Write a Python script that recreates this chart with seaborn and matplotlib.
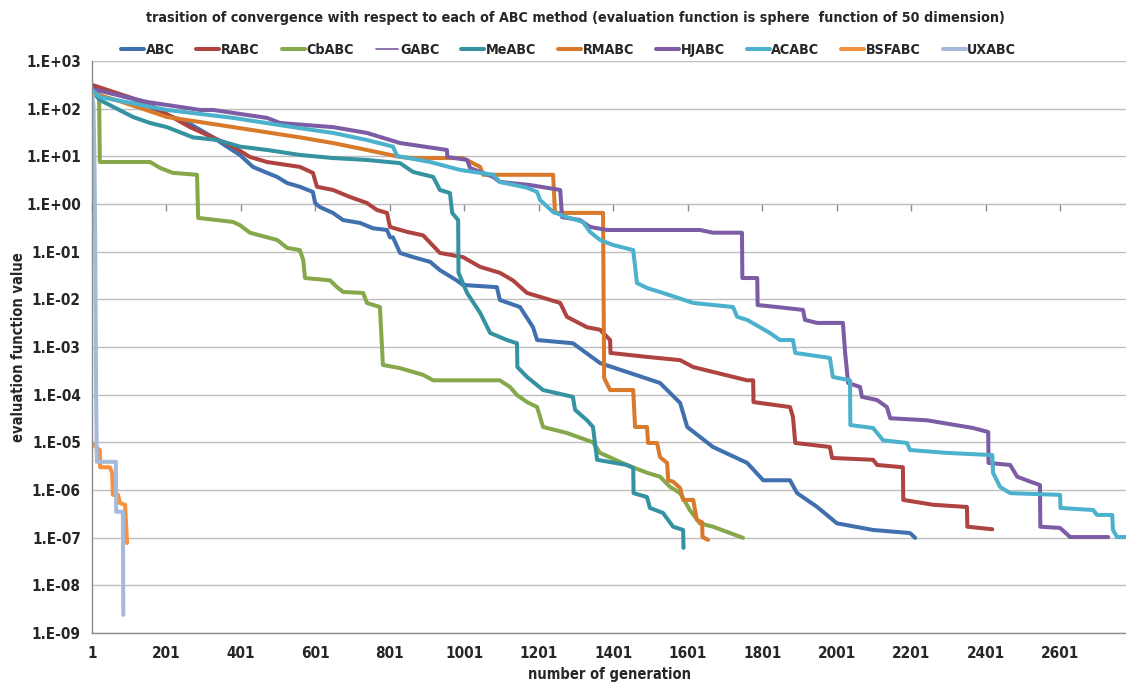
import matplotlib
matplotlib.use("Agg")
import matplotlib.pyplot as plt
from matplotlib import font_manager
from matplotlib.ticker import NullLocator
import seaborn as sns

# ---------------------------------------------------------------------------
# Best evaluation value (sphere function, 50 dimensions) per generation
# ---------------------------------------------------------------------------
ABC_gen = [1, 111, 202, 256, 326, 363, 398, 433, 471, 498, 525, 559, 594, 600, 613, 648,
           675, 721, 755, 793, 801, 809, 828, 863, 909, 935, 980, 997, 1088, 1096, 1150,
           1185, 1196, 1292, 1365, 1526, 1580, 1599, 1668, 1760, 1803, 1875, 1894, 1948,
           2001, 2098, 2197, 2211]
ABC_val = [271, 160, 74, 52, 25, 16, 10.7, 6.0, 4.5, 3.7, 2.75, 2.3, 1.79, 1.05, 0.86, 0.65,
           0.46, 0.40, 0.31, 0.285, 0.20, 0.20, 0.094, 0.077, 0.061, 0.041, 0.025, 0.020,
           0.018, 0.0097, 0.0069, 0.0026, 0.0014, 0.0012, 4.6e-4, 1.76e-4, 6.7e-5, 2.1e-5,
           8e-6, 3.7e-6, 1.6e-6, 1.6e-6, 8.6e-7, 4.4e-7, 2.0e-7, 1.45e-7, 1.25e-7, 9.9e-8]

RABC_gen = [1, 149, 264, 380, 425, 471, 559, 594, 605, 648, 694, 739, 766, 793, 801, 847,
            890, 935, 997, 1043, 1096, 1131, 1169, 1258, 1276, 1330, 1365, 1392, 1393, 1491,
            1580, 1615, 1668, 1760, 1776, 1777, 1875, 1883, 1889, 1982, 1988, 2098, 2109,
            2178, 2179, 2259, 2350, 2351, 2418]
RABC_val = [316, 131, 41, 16, 9.7, 7.6, 6.0, 4.5, 2.3, 1.97, 1.40, 1.05, 0.75, 0.65, 0.33,
            0.26, 0.22, 0.094, 0.077, 0.048, 0.036, 0.025, 0.0136, 0.0084, 0.0043, 0.0026,
            0.0023, 0.0014, 7.5e-4, 6.2e-4, 5.3e-4, 3.8e-4, 3.0e-4, 2.0e-4, 2.0e-4, 7e-5,
            5.5e-5, 3.4e-5, 9.7e-6, 8e-6, 4.7e-6, 4.3e-6, 3.35e-6, 3.0e-6, 6.2e-7, 4.9e-7,
            4.4e-7, 1.7e-7, 1.5e-7]

CbABC_gen = [1, 20, 22, 157, 184, 218, 283, 286, 337, 380, 398, 425, 471, 498, 525, 559,
             568, 573, 640, 659, 675, 729, 739, 774, 782, 828, 890, 917, 1096, 1123, 1142,
             1169, 1196, 1212, 1276, 1346, 1365, 1437, 1491, 1526, 1553, 1580, 1606, 1633,
             1668, 1749]
CbABC_val = [213, 200, 7.6, 7.6, 5.7, 4.5, 4.1, 0.51, 0.46, 0.42, 0.36, 0.25, 0.20, 0.176,
             0.12, 0.108, 0.067, 0.028, 0.025, 0.018, 0.0143, 0.0136, 0.0084, 0.0069,
             4.2e-4, 3.6e-4, 2.6e-4, 2.0e-4, 2.0e-4, 1.45e-4, 9.8e-5, 7e-5, 5.5e-5, 2.1e-5,
             1.57e-5, 1.0e-5, 6.0e-6, 3.35e-6, 2.3e-6, 1.9e-6, 1.16e-6, 8.6e-7, 3.8e-7,
             2.0e-7, 1.7e-7, 9.9e-8]

MeABC_gen = [1, 22, 111, 157, 202, 272, 337, 398, 471, 559, 648, 739, 828, 863, 917, 935,
             962, 968, 984, 985, 1008, 1043, 1070, 1115, 1142, 1143, 1169, 1212, 1292, 1298,
             1330, 1346, 1357, 1437, 1454, 1455, 1491, 1499, 1534, 1561, 1588, 1589]
MeABC_val = [235, 152, 67, 50, 41, 25, 22, 16, 13.6, 10.7, 9.2, 8.4, 7.2, 4.7, 3.7, 1.97,
             1.70, 0.65, 0.46, 0.036, 0.0136, 0.0052, 0.00197, 0.0014, 0.0012, 3.8e-4,
             2.35e-4, 1.25e-4, 9e-5, 4.8e-5, 2.9e-5, 2.1e-5, 4.3e-6, 3.35e-6, 2.9e-6, 8.6e-7,
             7.1e-7, 4.2e-7, 3.3e-7, 1.7e-7, 1.45e-7, 6.1e-8]

RMABC_gen = [1, 80, 202, 380, 559, 648, 739, 828, 863, 997, 1043, 1051, 1239, 1244, 1373,
             1376, 1392, 1454, 1459, 1491, 1494, 1518, 1526, 1545, 1548, 1561, 1580, 1588,
             1615, 1625, 1639, 1640, 1655]
RMABC_val = [213, 140, 67, 41, 25, 19, 13.6, 9.7, 9.2, 9.2, 6.0, 4.1, 4.1, 0.65, 0.65,
             2.24e-4, 1.25e-4, 1.25e-4, 2.1e-5, 2.1e-5, 9.7e-6, 9.7e-6, 4.9e-6, 3.7e-6,
             1.6e-6, 1.5e-6, 1.1e-6, 6.2e-7, 6.2e-7, 2.35e-7, 2.1e-7, 1.03e-7, 9e-8]

HJABC_gen = [1, 149, 291, 326, 471, 506, 648, 739, 828, 954, 955, 1008, 1016, 1078, 1096,
             1177, 1258, 1263, 1311, 1338, 1384, 1633, 1668, 1746, 1747, 1787, 1788, 1840,
             1910, 1915, 1948, 2017, 2023, 2031, 2063, 2068, 2109, 2135, 2144, 2243, 2366,
             2407, 2408, 2466, 2485, 2520, 2546, 2547, 2600, 2627, 2729]
HJABC_val = [259, 138, 94, 94, 64, 50, 41, 31, 19, 13.6, 9.7, 8.4, 5.7, 3.7, 2.9, 2.5,
             1.97, 0.53, 0.46, 0.33, 0.285, 0.285, 0.25, 0.25, 0.028, 0.028, 0.0076, 0.0069,
             0.006, 0.0037, 0.0032, 0.0032, 7.5e-4, 1.76e-4, 1.45e-4, 9e-5, 7.7e-5, 5.5e-5,
             3.2e-5, 2.9e-5, 2.0e-5, 1.65e-5, 3.7e-6, 3.35e-6, 1.9e-6, 1.5e-6, 1.27e-6,
             1.7e-7, 1.6e-7, 1.03e-7, 1.03e-7]

# GABC runs underneath HJABC over the whole range
GABC_gen = list(HJABC_gen)
GABC_val = list(HJABC_val)

ACABC_gen = [1, 22, 202, 380, 559, 648, 739, 809, 820, 909, 989, 1078, 1096, 1169, 1196,
             1204, 1239, 1276, 1319, 1338, 1365, 1400, 1454, 1464, 1491, 1534, 1615, 1722,
             1733, 1760, 1821, 1848, 1883, 1889, 1982, 1990, 2036, 2037, 2098, 2125, 2189,
             2197, 2297, 2418, 2420, 2439, 2466, 2600, 2601, 2689, 2699, 2740, 2742, 2753,
             2790]
ACABC_val = [246, 176, 94, 64, 39, 31, 22, 16, 10.2, 7.6, 5.2, 4.1, 2.9, 2.2, 1.79, 1.21,
             0.68, 0.53, 0.42, 0.26, 0.176, 0.138, 0.108, 0.022, 0.0173, 0.0136, 0.0084,
             0.0069, 0.0043, 0.0037, 0.00197, 0.0014, 0.0014, 7.5e-4, 5.9e-4, 2.35e-4,
             2.0e-4, 2.3e-5, 2.0e-5, 1.1e-5, 9.7e-6, 6.9e-6, 6.0e-6, 5.4e-6, 2.3e-6, 1.16e-6,
             8.6e-7, 7.9e-7, 4.2e-7, 3.8e-7, 3.0e-7, 3.0e-7, 1.45e-7, 1.03e-7, 1.03e-7]

BSFABC_gen = [1, 14, 22, 23, 49, 55, 57, 71, 76, 90, 95]
BSFABC_val = [9.7e-6, 7.6e-6, 6.9e-6, 3.0e-6, 3.0e-6, 2.3e-6, 7.9e-7, 7.9e-7, 5.3e-7,
              4.9e-7, 7.7e-8]

UXABC_gen = [1, 5, 8, 10, 12, 14, 65, 66, 84, 85]
UXABC_val = [200, 120, 5, 0.05, 1e-4, 3.9e-6, 3.9e-6, 3.5e-7, 3.5e-7, 2.4e-9]

SERIES = ["ABC", "RABC", "CbABC", "GABC", "MeABC", "RMABC", "HJABC", "ACABC", "BSFABC", "UXABC"]
DATA = {
    "ABC": (ABC_gen, ABC_val), "RABC": (RABC_gen, RABC_val), "CbABC": (CbABC_gen, CbABC_val),
    "GABC": (GABC_gen, GABC_val), "MeABC": (MeABC_gen, MeABC_val),
    "RMABC": (RMABC_gen, RMABC_val), "HJABC": (HJABC_gen, HJABC_val),
    "ACABC": (ACABC_gen, ACABC_val), "BSFABC": (BSFABC_gen, BSFABC_val),
    "UXABC": (UXABC_gen, UXABC_val),
}
COLORS = {
    "ABC": "#4170AE", "RABC": "#AE4340", "CbABC": "#86A84A", "GABC": "#8468A6",
    "MeABC": "#3592A0", "RMABC": "#D97A2A", "HJABC": "#7D5CA6", "ACABC": "#4CB1CC",
    "BSFABC": "#F5923E", "UXABC": "#A5B9DB",
}
WIDTHS = {name: 2.9 for name in SERIES}
WIDTHS["GABC"] = 1.3

X_TICKS = [1, 201, 401, 601, 801, 1001, 1201, 1401, 1601, 1801, 2001, 2201, 2401, 2601]
Y_EXPONENTS = list(range(-9, 4))

TITLE = ("trasition of convergence with respect to each of ABC method "
         "(evaluation function is sphere  function of 50 dimension)")

# ---------------------------------------------------------------------------
sns.set_style("white")
available = {f.name for f in font_manager.fontManager.ttflist}
if "Liberation Sans Narrow" in available:
    plt.rcParams["font.family"] = ["Liberation Sans Narrow", "DejaVu Sans"]
    STRETCH = "normal"
else:
    plt.rcParams["font.family"] = ["DejaVu Sans"]
    STRETCH = "condensed"
plt.rcParams["font.weight"] = "bold"

fig = plt.figure(figsize=(11.26, 6.84), dpi=100)
ax = fig.add_axes([92 / 1126, 1 - 633 / 684, 1 - 92 / 1126, (633 - 61) / 684])

for name in SERIES:
    gen, val = DATA[name]
    sns.lineplot(x=gen, y=val, ax=ax, color=COLORS[name], linewidth=WIDTHS[name],
                 label=name, estimator=None, sort=False, solid_joinstyle="round",
                 solid_capstyle="round")

ax.set_yscale("log")
ax.set_ylim(1e-9, 1e3)
ax.set_xlim(1, 2777)
ax.set_yticks([10.0 ** k for k in Y_EXPONENTS])
ax.set_yticklabels([f"1.E{k:+03d}" for k in Y_EXPONENTS], fontsize=11,
                   fontweight="bold", fontstretch=STRETCH)
ax.yaxis.set_minor_locator(NullLocator())
ax.set_xticks(X_TICKS)
ax.set_xticklabels([str(t) for t in X_TICKS], fontsize=11, fontweight="bold",
                   fontstretch=STRETCH)

ax.grid(axis="y", color="#BEBEBE", linewidth=1.0)
ax.grid(axis="x", visible=False)
ax.set_axisbelow(True)
for side in ("top", "right"):
    ax.spines[side].set_visible(False)
for side in ("left", "bottom"):
    ax.spines[side].set_color("#8C8C8C")
    ax.spines[side].set_linewidth(1.0)
ax.tick_params(axis="y", length=5, width=1, color="#8C8C8C", direction="out", pad=3)
ax.tick_params(axis="x", length=0, pad=9)

# horizontal axis crosses the value axis at 1.E+00
cross = ax.secondary_xaxis(9 / 12)
cross.set_alignment("bottom")
cross.set_xticks(X_TICKS)
cross.set_xticklabels([])
cross.tick_params(length=5, width=1, color="#8C8C8C", direction="out")
cross.spines["bottom"].set_color("#BEBEBE")

ax.set_xlabel("number of generation", fontsize=10.5, fontweight="bold",
              fontstretch=STRETCH, labelpad=5)
ax.set_ylabel("evaluation function value", fontsize=10.5, fontweight="bold",
              fontstretch=STRETCH, labelpad=0)

fig.text(0.511, 0.973, TITLE, ha="center", va="center", fontsize=10.3,
         fontweight="bold", fontstretch=STRETCH)

handles, labels = ax.get_legend_handles_labels()
ax.legend(handles, labels, ncol=10, loc="center", bbox_to_anchor=(0.505, 0.927),
          bbox_transform=fig.transFigure, frameon=False, handlelength=1.6,
          handletextpad=0.1, columnspacing=1.55,
          prop={"size": 10.3, "weight": "bold", "stretch": STRETCH})

fig.savefig("out.png", dpi=100, facecolor="white")
